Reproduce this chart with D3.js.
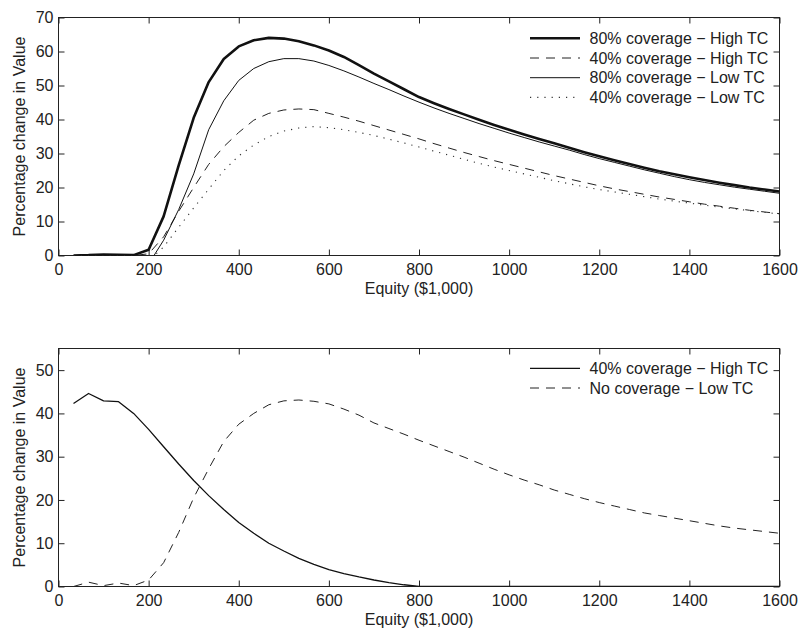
<!DOCTYPE html>
<html><head><meta charset="utf-8">
<script src="https://cdn.jsdelivr.net/npm/d3@7/dist/d3.min.js"></script>
<style>
body{margin:0;background:#fff;}
svg{display:block;font-family:"Liberation Sans",Arial,Helvetica,sans-serif;}
</style></head>
<body><svg id="c" width="799" height="629"></svg>
<script>
// ---- data ----
const equity = [33.3,66.7,100,133.3,166.7,200,233.3,266.7,300,333.3,366.7,400,433.3,466.7,500,533.3,566.7,600,633.3,666.7,700,733.3,766.7,800,833.3,866.7,900,933.3,966.7,1000,1033.3,1066.7,1100,1133.3,1166.7,1200,1233.3,1266.7,1300,1333.3,1366.7,1400,1433.3,1466.7,1500,1533.3,1566.7,1600];

const cov80High = [0,0.1,0.3,0.2,0.1,1.7,11.5,26.5,40.5,51,57.8,61.5,63.3,64.0,63.8,63.0,61.8,60.3,58.4,56.0,53.5,51.2,48.9,46.6,44.8,43.1,41.5,39.9,38.4,37.0,35.6,34.3,33.0,31.7,30.4,29.2,28.0,26.9,25.8,24.8,23.9,23.0,22.2,21.4,20.7,20.0,19.4,18.8];
const cov40High = [0,0,0.2,0.1,0,0.5,5.5,13,20,26.8,32,36.2,39.8,41.8,42.8,43.1,42.9,41.8,40.7,39.5,38.2,36.9,35.6,34.3,32.9,31.6,30.3,29.1,27.9,26.8,25.7,24.6,23.5,22.5,21.5,20.5,19.6,18.8,18.0,17.2,16.5,15.8,15.1,14.5,13.9,13.3,12.8,12.3];
const cov80Low = [0,0.1,0.3,0.2,0,-2.5,4.5,13.5,24,37,45.5,51.5,55.0,57.0,57.9,57.9,57.2,55.9,54.3,52.5,50.6,48.8,46.9,45.1,43.4,41.8,40.3,38.8,37.4,36.0,34.7,33.4,32.2,31.0,29.7,28.5,27.4,26.3,25.2,24.2,23.2,22.3,21.5,20.8,20.1,19.5,18.9,18.3];
const cov40Low = [0,0,0,0,0,-1.5,2.5,8.3,14,19.5,25,29.3,32.5,35,36.6,37.5,37.9,37.6,37.0,36.2,35.3,34.2,33.1,31.9,30.7,29.5,28.3,27.1,26.0,25.0,24.0,23.0,22.0,21.1,20.2,19.4,18.7,18.0,17.3,16.6,16.0,15.4,14.8,14.2,13.7,13.2,12.7,12.2];

const bot40High = [42.3,44.6,42.9,42.7,40.0,36.3,32.3,28.3,24.5,21.0,17.8,14.8,12.3,10.0,8.2,6.5,5.1,3.9,3.0,2.2,1.5,0.9,0.4,0.05,0,0,0,0,0,0,0,0,0,0,0,0,0,0,0,0,0,0,0,0,0,0,0,0];
const botNoLow = [0,1.0,0.2,0.8,0.2,1.5,5.5,12.5,20.5,27.2,33.5,37.5,40,42,42.9,43.1,42.8,42.2,41.0,39.6,37.8,36.5,35.2,33.8,32.5,31.2,29.9,28.5,27.1,25.8,24.6,23.5,22.3,21.3,20.3,19.4,18.6,17.8,17.0,16.4,15.8,15.2,14.6,14.0,13.5,13.1,12.7,12.3];

const xTicks = [0,200,400,600,800,1000,1200,1400,1600];
const yTicksTop = [0,10,20,30,40,50,60,70];
const yTicksBot = [0,10,20,30,40,50];
const topLabels = ["80% coverage \u2212 High TC","40% coverage \u2212 High TC","80% coverage \u2212 Low TC","40% coverage \u2212 Low TC"];
const botLabels = ["40% coverage \u2212 High TC","No coverage \u2212 Low TC"];

// ---- styles ----
const styles = {
  thick:{w:2.6,dash:null,color:"#111"},
  dashed:{w:1,dash:"9,7",color:"#222"},
  thin:{w:1,dash:null,color:"#111"},
  dotted:{w:1.1,dash:"1.2,6",color:"#333"},
  solid:{w:1.3,dash:null,color:"#111"}
};

const svg = d3.select("#c");
const X0 = 58.5, X1 = 779.5;
const x = d3.scaleLinear().domain([0,1600]).range([X0,X1]);

function panel(id, top, bottom, ymax, yTicks, series, labels, legendTop){
  const y = d3.scaleLinear().domain([0,ymax]).range([bottom,top]);
  const g = svg.append("g");
  g.append("clipPath").attr("id","clip"+id).append("rect")
    .attr("x",X0).attr("y",top).attr("width",X1-X0).attr("height",bottom-top);

  const fs = "16px";
  const ax = g.append("g").attr("transform",`translate(0,${bottom})`)
    .call(d3.axisBottom(x).tickValues(xTicks).tickSizeInner(-6).tickSizeOuter(0).tickPadding(8.5).tickFormat(d3.format("d")));
  const axT = g.append("g").attr("transform",`translate(0,${top})`)
    .call(d3.axisTop(x).tickValues(xTicks).tickSizeInner(-6).tickSizeOuter(0).tickFormat(""));
  const ay = g.append("g").attr("transform",`translate(${X0},0)`)
    .call(d3.axisLeft(y).tickValues(yTicks).tickSizeInner(-6).tickSizeOuter(0).tickPadding(5).tickFormat(d3.format("d")));
  const ayR = g.append("g").attr("transform",`translate(${X1},0)`)
    .call(d3.axisRight(y).tickValues(yTicks).tickSizeInner(-6).tickSizeOuter(0).tickFormat(""));
  [ax,axT,ay,ayR].forEach(a=>{
    a.select(".domain").remove();
    a.selectAll("line").attr("stroke","#222");
    a.selectAll("text").attr("font-size",fs).attr("fill","#222")
      .attr("font-family","Liberation Sans, Arial, sans-serif");
  });
  g.append("rect").attr("x",X0).attr("y",top).attr("width",X1-X0).attr("height",bottom-top)
    .attr("fill","none").attr("stroke","#222").attr("stroke-width",1);

  const line = d3.line().x((d,i)=>x(equity[i])).y(d=>y(d));
  const lg = g.append("g").attr("clip-path",`url(#clip${id})`);
  series.forEach(s=>{
    lg.append("path").datum(s.values).attr("d",line).attr("fill","none")
      .attr("stroke",s.style.color).attr("stroke-width",s.style.w)
      .attr("stroke-dasharray",s.style.dash).attr("stroke-linejoin","round");
  });

  g.append("text").attr("x",(X0+X1)/2).attr("y",bottom+38).attr("text-anchor","middle")
    .attr("font-size",fs).attr("fill","#222").text("Equity ($1,000)");
  g.append("text").attr("transform",`translate(25,${(top+bottom)/2}) rotate(-90)`)
    .attr("text-anchor","middle").attr("font-size",fs).attr("fill","#222").text("Percentage change in Value");

  labels.forEach((lab,i)=>{
    const ly = legendTop + i*19.7;
    const st = series[i].style;
    g.append("line").attr("x1",530).attr("x2",580).attr("y1",ly).attr("y2",ly)
      .attr("stroke",st.color).attr("stroke-width",st.w).attr("stroke-dasharray",st.dash);
    g.append("text").attr("x",589.5).attr("y",ly).attr("dy","0.36em")
      .attr("font-size",fs).attr("fill","#222").text(lab);
  });
}

panel("t", 17.5, 255.5, 70, yTicksTop, [
  {values:cov80High, style:styles.thick},
  {values:cov40High, style:styles.dashed},
  {values:cov80Low, style:styles.thin},
  {values:cov40Low, style:styles.dotted}
], topLabels, 38.3);

panel("b", 348.5, 586.5, 55, yTicksBot, [
  {values:bot40High, style:styles.solid},
  {values:botNoLow, style:styles.dashed}
], botLabels, 368.3);
</script>
</body></html>
